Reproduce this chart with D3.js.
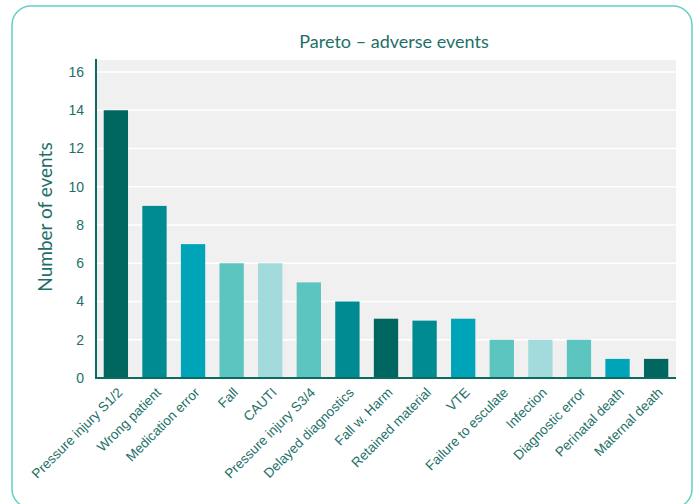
<!DOCTYPE html>
<html>
<head>
<meta charset="utf-8">
<script src="https://cdn.jsdelivr.net/npm/d3@7"></script>
<style>
  html, body { margin: 0; padding: 0; background: #ffffff; }
  svg { display: block; font-family: "Lato", "Open Sans", sans-serif; }
</style>
</head>
<body>
<svg id="chart" width="696" height="504"></svg>
<script>
// Adverse event categories, sorted by count (Pareto order)
const categories = [
  "Pressure injury S1/2", "Wrong patient", "Medication error", "Fall", "CAUTI",
  "Pressure injury S3/4", "Delayed diagnostics", "Fall w. Harm", "Retained material",
  "VTE", "Failure to esculate", "Infection", "Diagnostic error", "Perinatal death",
  "Maternal death"
];
const eventCounts = [14, 9, 7, 6, 6, 5, 4, 3.1, 3, 3.1, 2, 2, 2, 1, 1];
const barColors = [
  "#006760", "#008a91", "#00a4b8", "#5cc5c0", "#a3dadc",
  "#5cc5c0", "#008a91", "#006760", "#008a91", "#00a4b8",
  "#5cc5c0", "#a3dadc", "#5cc5c0", "#00a4b8", "#006760"
];
const yTicks = [0, 2, 4, 6, 8, 10, 12, 14, 16];

const svg = d3.select("#chart");
const textColor = "#1d6f68";

// outer card (bottom edge runs just past the canvas)
svg.append("rect")
  .attr("x", 12).attr("y", 6)
  .attr("width", 680).attr("height", 502)
  .attr("rx", 19).attr("ry", 19)
  .attr("fill", "#ffffff")
  .attr("stroke", "#62cfc5").attr("stroke-width", 1.5);

const plot = { left: 96, right: 676, top: 60, bottom: 378 };

const x = d3.scaleBand()
  .domain(categories)
  .range([plot.left, plot.right])
  .paddingInner(0.37)
  .paddingOuter(0.2);

const y = d3.scaleLinear()
  .domain([0, 16])
  .range([plot.bottom, 72]);

// plot background
svg.append("rect")
  .attr("x", plot.left).attr("y", plot.top)
  .attr("width", plot.right - plot.left).attr("height", plot.bottom - plot.top)
  .attr("fill", "#f0f0f0");

// grid lines
svg.append("g")
  .selectAll("line")
  .data(yTicks.filter(d => d > 0))
  .join("line")
  .attr("x1", plot.left).attr("x2", plot.right)
  .attr("y1", d => y(d)).attr("y2", d => y(d))
  .attr("stroke", "#ffffff").attr("stroke-width", 1.5);

// bars
svg.append("g")
  .selectAll("rect")
  .data(categories)
  .join("rect")
  .attr("x", d => x(d))
  .attr("width", x.bandwidth())
  .attr("y", (d, i) => y(eventCounts[i]))
  .attr("height", (d, i) => y(0) - y(eventCounts[i]))
  .attr("fill", (d, i) => barColors[i]);

// y axis
const yAxis = svg.append("g")
  .attr("transform", `translate(${plot.left},0)`)
  .call(d3.axisLeft(y).tickValues(yTicks).tickSize(0).tickPadding(12));
yAxis.select(".domain").remove();
yAxis.selectAll("text")
  .attr("fill", textColor)
  .style("font-size", "14px");
svg.append("line")
  .attr("x1", plot.left).attr("x2", plot.left)
  .attr("y1", plot.top - 1).attr("y2", plot.bottom + 1)
  .attr("stroke", "#0b6a62").attr("stroke-width", 2);

// x axis with rotated category labels
const xAxis = svg.append("g")
  .attr("transform", `translate(0,${plot.bottom})`)
  .call(d3.axisBottom(x).tickSize(0));
xAxis.select(".domain").remove();
xAxis.selectAll(".tick text")
  .attr("fill", textColor)
  .style("font-size", "13.5px")
  .attr("text-anchor", "end")
  .attr("x", 0).attr("y", 0)
  .attr("dx", 0).attr("dy", "0.35em")
  .attr("transform", "translate(4,12) rotate(-45)");
svg.append("line")
  .attr("x1", plot.left).attr("x2", plot.right)
  .attr("y1", plot.bottom).attr("y2", plot.bottom)
  .attr("stroke", "#0b6a62").attr("stroke-width", 2);

// title
svg.append("text")
  .attr("x", 394).attr("y", 48)
  .attr("text-anchor", "middle")
  .attr("fill", textColor)
  .style("font-size", "18px")
  .text("Pareto – adverse events");

// y axis title
svg.append("text")
  .attr("transform", "translate(52,217) rotate(-90)")
  .attr("text-anchor", "middle")
  .attr("fill", textColor)
  .style("font-size", "19px")
  .text("Number of events");
</script>
</body>
</html>
